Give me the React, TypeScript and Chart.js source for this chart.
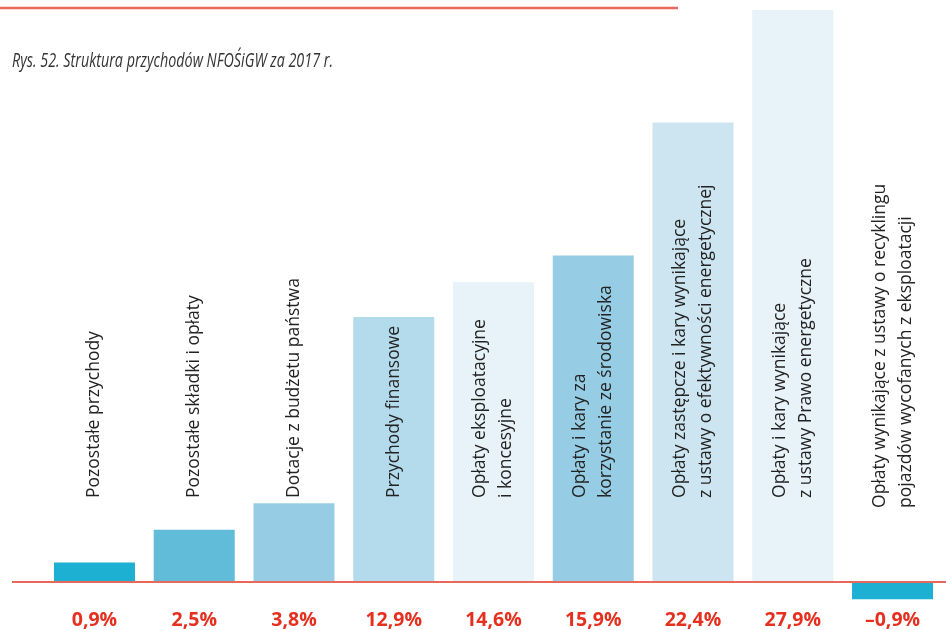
import React, { useEffect, useRef } from "react";
import { Chart, registerables } from "chart.js";

Chart.register(...registerables);

const categories: string[][] = [
  ["Pozostałe przychody"],
  ["Pozostałe składki i opłaty"],
  ["Dotacje z budżetu państwa"],
  ["Przychody finansowe"],
  ["Opłaty eksploatacyjne", "i koncesyjne"],
  ["Opłaty i kary za", "korzystanie ze środowiska"],
  ["Opłaty zastępcze i kary wynikające", "z ustawy o efektywności energetycznej"],
  ["Opłaty i kary wynikające", "z ustawy Prawo energetyczne"],
  ["Opłaty wynikające z ustawy o recyklingu", "pojazdów wycofanych z eksploatacji"],
];
const values = [0.9, 2.5, 3.8, 12.9, 14.6, 15.9, 22.4, 27.9, -0.9];
const valueLabels = ["0,9%", "2,5%", "3,8%", "12,9%", "14,6%", "15,9%", "22,4%", "27,9%", "–0,9%"];
const barColors = [
  "#1eb0d2",
  "#60bcd8",
  "#96cde4",
  "#b4dbec",
  "#e7f2f9",
  "#96cde4",
  "#cce5f1",
  "#e7f2f9",
  "#1eb0d2",
];
const title = "Rys. 52. Struktura przychodów NFOŚiGW za 2017 r.";

const RED_LINE = "#e8685c";
const RED_TEXT = "#e5301f";

const decorPlugin = {
  id: "decor",
  beforeDraw(chart: any) {
    const ctx = chart.ctx;
    ctx.save();
    ctx.fillStyle = "#ffffff";
    ctx.fillRect(0, 0, chart.width, chart.height);
    // top red rule
    ctx.strokeStyle = RED_LINE;
    ctx.lineWidth = 2.5;
    ctx.beginPath();
    ctx.moveTo(0, 8);
    ctx.lineTo(678, 8);
    ctx.stroke();
    // title
    ctx.fillStyle = "#333333";
    ctx.font = "italic 19.5px 'Open Sans'";
    ctx.textBaseline = "alphabetic";
    ctx.textAlign = "left";
    ctx.fillText(title, 12, 67, 321);
    ctx.restore();
  },
  afterDatasetsDraw(chart: any) {
    const ctx = chart.ctx;
    const yScale = chart.scales.y;
    const zeroY = yScale.getPixelForValue(0);
    const meta = chart.getDatasetMeta(0);
    ctx.save();
    // baseline
    ctx.strokeStyle = RED_LINE;
    ctx.lineWidth = 2;
    ctx.beginPath();
    ctx.moveTo(12, zeroY + 1);
    ctx.lineTo(chart.width, zeroY + 1);
    ctx.stroke();

    meta.data.forEach((bar: any, i: number) => {
      const x = bar.x;
      // rotated category labels
      const lines = categories[i];
      const start = values[i] < 0 ? zeroY - 73 : zeroY - 83;
      ctx.save();
      ctx.translate(x, start);
      ctx.rotate(-Math.PI / 2);
      ctx.fillStyle = "#222222";
      ctx.font = "17.5px 'Open Sans'";
      ctx.textAlign = "left";
      ctx.textBaseline = "middle";
      const gap = 26;
      lines.forEach((ln, j) => {
        const off = (j - (lines.length - 1) / 2) * gap;
        ctx.fillText(ln, 0, off);
      });
      ctx.restore();
      // value labels
      ctx.fillStyle = RED_TEXT;
      ctx.font = "bold 19.5px 'Open Sans'";
      ctx.textAlign = "center";
      ctx.textBaseline = "middle";
      ctx.fillText(valueLabels[i], x, 620);
    });
    ctx.restore();
  },
};

export default function App() {
  const ref = useRef<HTMLCanvasElement | null>(null);
  useEffect(() => {
    if (!ref.current) return;
    const chart = new Chart(ref.current, {
      type: "bar",
      data: {
        labels: categories.map((c) => c.join(" ")),
        datasets: [
          {
            data: values,
            backgroundColor: barColors,
            borderWidth: 0,
            categoryPercentage: 1,
            barPercentage: 0.812,
          },
        ],
      },
      options: {
        animation: false,
        responsive: false,
        maintainAspectRatio: false,
        layout: { padding: { left: 44.6, right: 3.6, top: 10, bottom: 28.6 } },
        scales: {
          x: { display: false },
          y: { display: false, min: -1, max: 27.9 },
        },
        plugins: {
          legend: { display: false },
          tooltip: { enabled: false },
          title: { display: false },
        },
      },
      plugins: [decorPlugin],
    });
    return () => chart.destroy();
  }, []);
  return (
    <div style={{ position: "fixed", left: 0, top: 0, width: 946, height: 630, background: "#fff" }}>
      <canvas ref={ref} width={946} height={630} style={{ display: "block" }} />
    </div>
  );
}
